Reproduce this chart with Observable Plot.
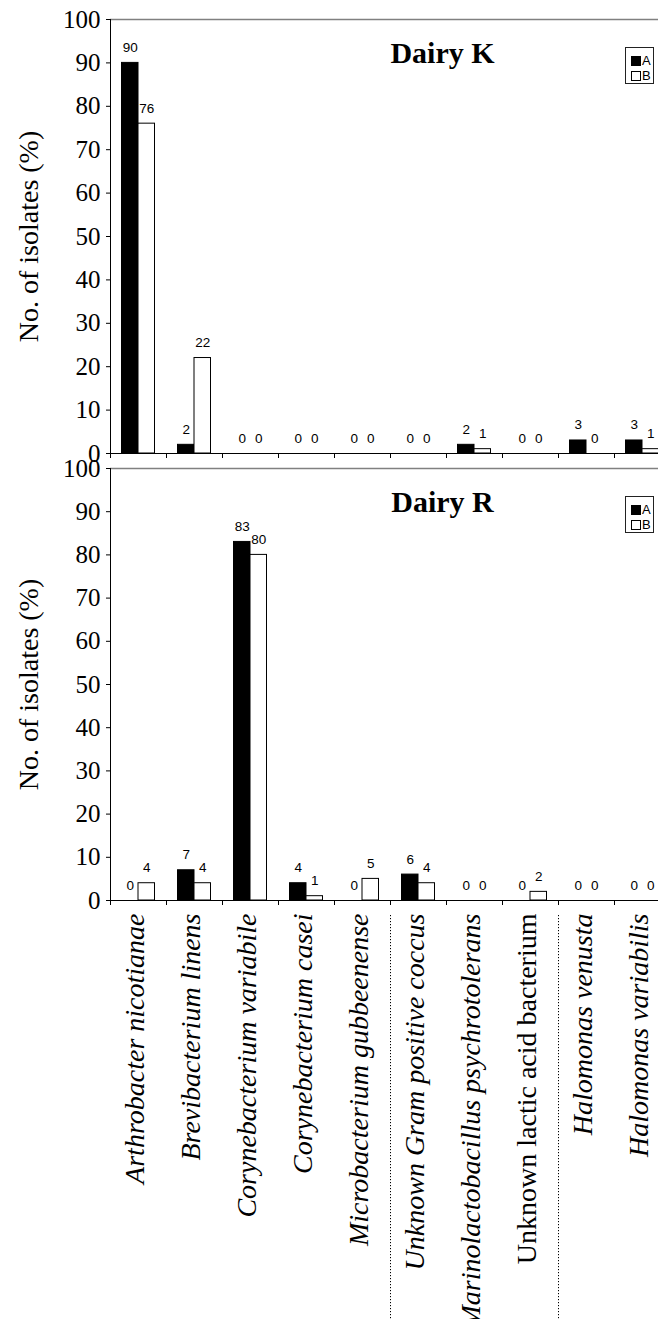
<!DOCTYPE html>
<html>
<head>
<meta charset="utf-8">
<script src="https://cdn.jsdelivr.net/npm/d3@7"></script>
<script src="https://cdn.jsdelivr.net/npm/@observablehq/plot@0.6"></script>
<style>
  html, body { margin: 0; padding: 0; background: #fff; overflow: hidden; }
  #wrap { position: relative; width: 658px; height: 1319px; overflow: hidden; }
  #wrap svg { display: block; position: absolute; left: 0; }
  .legend { position: absolute; width: 29px; height: 37px; border: 1px solid #222; box-sizing: border-box;
            padding: 5px 0 0 5px; font: 13px "Liberation Sans", Arial, sans-serif; color: #000; }
  .legend .row { height: 15px; line-height: 15px; display: flex; align-items: center; }
  .legend .sw { width: 10px; height: 10px; box-sizing: border-box; border: 1px solid #000; margin-right: 1px; }
</style>
</head>
<body>
<div id="wrap"></div>
<script>
// ---- data ----
const categories = [
  "Arthrobacter nicotianae",
  "Brevibacterium linens",
  "Corynebacterium variabile",
  "Corynebacterium casei",
  "Microbacterium gubbeenense",
  "Unknown Gram positive coccus",
  "Marinolactobacillus psychrotolerans",
  "Unknown lactic acid bacterium",
  "Halomonas venusta",
  "Halomonas variabilis"
];
const uprightLabels = ["Unknown lactic acid bacterium"];
const separators = ["Unknown Gram positive coccus", "Halomonas venusta"];
const seriesNames = ["A", "B"];
const dairyK_A = [90, 2, 0, 0, 0, 0, 2, 0, 3, 3];
const dairyK_B = [76, 22, 0, 0, 0, 0, 1, 0, 0, 1];
const dairyR_A = [0, 7, 83, 4, 0, 6, 0, 0, 0, 0];
const dairyR_B = [4, 4, 80, 1, 5, 4, 0, 2, 0, 0];
const yTicks = [0, 10, 20, 30, 40, 50, 60, 70, 80, 90, 100];
const yTitle = "No. of isolates (%)";

const SERIF = '"Liberation Serif", "Times New Roman", serif';
const SANS = '"Liberation Sans", Arial, sans-serif';
const BW = 56;            // band width in px (range / categories)
const HALF = BW / 2;
const OUTER = 11.5;       // empty space on each side of a bar pair

function rows(vals, s) { return categories.map((c, i) => ({category: c, series: s, value: vals[i]})); }

function panel({A, B, title, height, marginTop, marginBottom, labels}) {
  const ra = rows(A, seriesNames[0]);
  const rb = rows(B, seriesNames[1]);
  const marks = [
    Plot.ruleY([100], {stroke: "#808080", strokeWidth: 1.5}),
    Plot.barY(ra, {x: "category", y: "value", fill: "black", stroke: "black", strokeWidth: 1, insetLeft: OUTER, insetRight: HALF}),
    Plot.barY(rb, {x: "category", y: "value", fill: "white", stroke: "black", strokeWidth: 1, insetLeft: HALF, insetRight: OUTER}),
    Plot.ruleY([0], {stroke: "black", strokeWidth: 1}),
    Plot.ruleX([categories[0]], {x: d => d, dx: -HALF, stroke: "black", strokeWidth: 1}),
    Plot.ruleX(categories, {x: d => d, dx: -HALF, y1: 0, y2: 0, insetTop: 0, insetBottom: -5, stroke: "black"}),
    Plot.axisY(yTicks, {anchor: "left", tickSize: 4, tickPadding: 6, fontSize: 25, fontFamily: SERIF, label: null, color: "black"}),
    Plot.text(ra, {x: "category", y: "value", text: d => String(d.value), dx: -8.25, dy: -11, lineAnchor: "bottom", fontSize: 13.5, fontFamily: SANS, fill: "black"}),
    Plot.text(rb, {x: "category", y: "value", text: d => String(d.value), dx: 8.25, dy: -11, lineAnchor: "bottom", fontSize: 13.5, fontFamily: SANS, fill: "black"}),
    Plot.text([title], {frameAnchor: "top-left", dx: 332, dy: 43, textAnchor: "middle", lineAnchor: "bottom", fontSize: 30, fontWeight: "bold", fontFamily: SERIF, fill: "black"}),
    Plot.text([yTitle], {frameAnchor: "left", dx: -81, rotate: -90, textAnchor: "middle", lineAnchor: "middle", fontSize: 28, fontFamily: SERIF, fill: "black"})
  ];
  if (labels) {
    marks.push(
      Plot.ruleX(separators, {x: d => d, dx: -HALF, y1: 0, y2: 0, insetTop: 15, insetBottom: -440, stroke: "black", strokeWidth: 1, strokeDasharray: "1.2,1.8"}),
      Plot.text(categories.filter(c => !uprightLabels.includes(c)), {x: d => d, frameAnchor: "bottom", dy: 13, dx: -3, rotate: -90, textAnchor: "end", lineAnchor: "middle", fontSize: 28, fontStyle: "italic", fontFamily: SERIF, fill: "black"}),
      Plot.text(uprightLabels, {x: d => d, frameAnchor: "bottom", dy: 13, dx: -3, rotate: -90, textAnchor: "end", lineAnchor: "middle", fontSize: 28, fontFamily: SERIF, fill: "black"})
    );
  }
  return Plot.plot({
    width: 658,
    height,
    marginLeft: 110,
    marginRight: 0,
    marginTop,
    marginBottom,
    style: {background: "transparent", overflow: "visible", color: "black"},
    x: {type: "band", domain: categories, range: [110, 110 + BW * categories.length], padding: 0, axis: null},
    y: {domain: [0, 100], axis: null},
    marks
  });
}

const wrap = document.getElementById("wrap");
const top1 = panel({A: dairyK_A, B: dairyK_B, title: "Dairy K", height: 460, marginTop: 19, marginBottom: 7, labels: false});
top1.style.top = "0px";
wrap.appendChild(top1);
const bottom1 = panel({A: dairyR_A, B: dairyR_B, title: "Dairy R", height: 859, marginTop: 8, marginBottom: 419, labels: true});
bottom1.style.top = "460px";
wrap.appendChild(bottom1);

function legend(top) {
  const d = document.createElement("div");
  d.className = "legend";
  d.style.left = "625px";
  d.style.top = top + "px";
  d.innerHTML = seriesNames.map((s, i) =>
    `<div class="row"><span class="sw" style="background:${i === 0 ? "#000" : "#fff"}"></span>${s}</div>`).join("");
  wrap.appendChild(d);
}
legend(47);
legend(496);
</script>
</body>
</html>
